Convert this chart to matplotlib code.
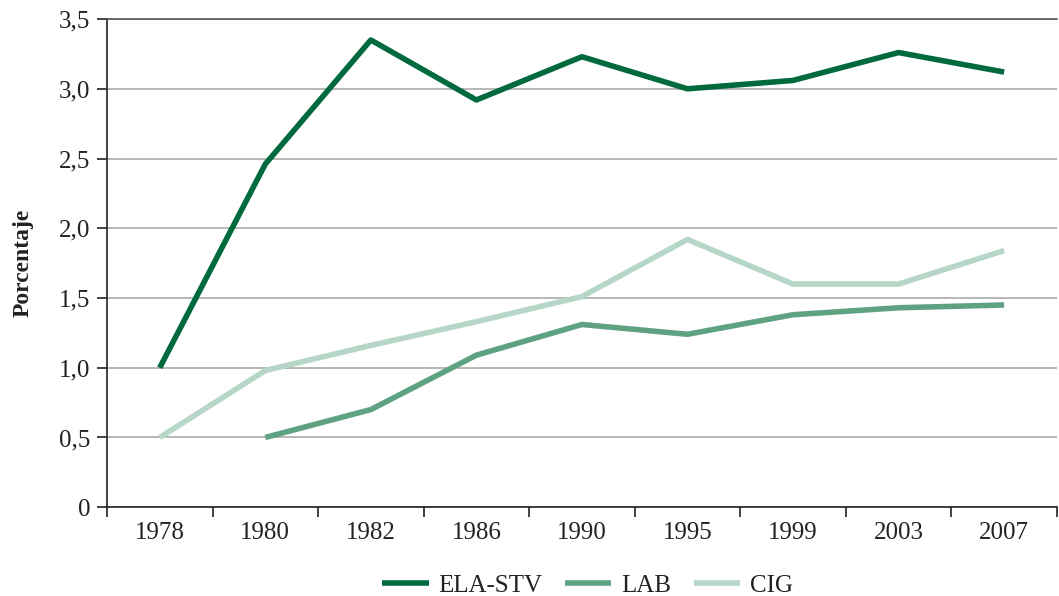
import numpy as np
import matplotlib.pyplot as plt
from matplotlib.ticker import FixedLocator, FuncFormatter

years = ["1978", "1980", "1982", "1986", "1990", "1995", "1999", "2003", "2007"]
ela_stv = [1.0, 2.46, 3.35, 2.92, 3.23, 3.0, 3.06, 3.26, 3.12]
lab = [np.nan, 0.5, 0.70, 1.09, 1.31, 1.24, 1.38, 1.43, 1.45]
cig = [0.5, 0.98, 1.16, 1.33, 1.51, 1.92, 1.60, 1.60, 1.84]

plt.rcParams['font.family'] = ['Liberation Serif', 'DejaVu Serif']

fig = plt.figure(figsize=(10.59, 5.96), dpi=100)
ax = fig.add_axes([0.101, 0.149, 0.897, 0.819])

x = np.arange(len(years))
ax.plot(x, ela_stv, color='#006a3e', lw=4, label='ELA-STV', solid_capstyle='butt')
ax.plot(x, lab, color='#5fa283', lw=4, label='LAB', solid_capstyle='butt')
ax.plot(x, cig, color='#b6d7c7', lw=4, label='CIG', solid_capstyle='butt')

ax.set_xlim(-0.5, len(years) - 0.5)
ax.set_ylim(0, 3.5)
ax.set_yticks(np.arange(0, 3.51, 0.5))
ax.yaxis.set_major_formatter(FuncFormatter(lambda v, p: "0" if v == 0 else f"{v:.1f}".replace(".", ",")))
ax.set_xticks(x)
ax.set_xticklabels(years)
ax.xaxis.set_minor_locator(FixedLocator(np.arange(-0.5, len(years), 1)))
ax.tick_params(axis='x', which='major', length=0, labelsize=18, pad=11, colors='#222222')
ax.tick_params(axis='x', which='minor', length=7, width=1.2, color='#222222')
ax.tick_params(axis='y', length=7, width=1.2, labelsize=18, pad=5, color='#222222', labelcolor='#222222')

ax.grid(axis='y', color='#aaaaaa', lw=1.2)
ax.set_axisbelow(True)
ax.spines['right'].set_visible(False)
ax.spines['top'].set_color('#555555')
ax.spines['top'].set_linewidth(1.2)
ax.spines['left'].set_color('#222222')
ax.spines['left'].set_linewidth(1.2)
ax.spines['bottom'].set_color('#222222')
ax.spines['bottom'].set_linewidth(1.2)

ax.set_ylabel("Porcentaje", fontsize=17, fontweight='bold', labelpad=18, color='#222222')

leg = fig.legend(loc='center', bbox_to_anchor=(0.555, 0.017), ncol=3, frameon=False,
                 fontsize=18, handlelength=1.85, columnspacing=0.9, handletextpad=0.4,
                 borderpad=0, borderaxespad=0)
for t in leg.get_texts():
    t.set_color('#222222')

fig.savefig("out.png", dpi=100)
